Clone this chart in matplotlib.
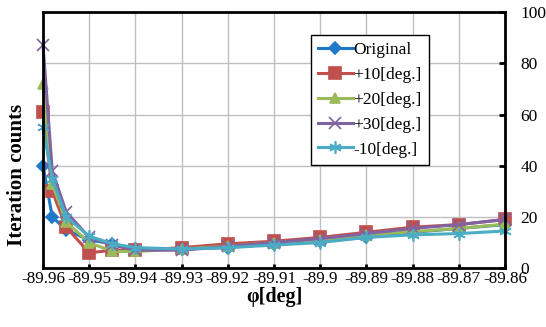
import numpy as np
import matplotlib.pyplot as plt

plt.rcParams['font.family'] = ['Liberation Serif', 'DejaVu Serif']

# data
phi = [-89.96, -89.958, -89.955, -89.95, -89.945, -89.94, -89.93,
       -89.92, -89.91, -89.90, -89.89, -89.88, -89.87, -89.86]
original = [40, 20, 15, 11, 9.5, 7.5, 7.5, 8, 9.5, 10.5, 12, 14, 15.5, 17]
plus10 = [61, 30, 16, 6, 7, 7, 8, 9.5, 10.5, 12, 14, 16, 17, 19]
plus20 = [72, 33, 18, 10, 6.5, 6.5, 7.5, 8.5, 10, 11, 13, 14.2, 15.5, 17.2]
plus30 = [87, 38, 22, 12, 9, 7, 7, 8.5, 10, 11.5, 13.5, 15.5, 17, 19]
minus10 = [55, 35, 20, 12.5, 9.5, 8, 7.5, 8, 9, 10, 12, 13, 13.5, 14.5]

labels = ['Original', '+10[deg.]', '+20[deg.]', '+30[deg.]', '-10[deg.]']
colors = ['#1f78c8', '#c0504d', '#9bbb59', '#8064a2', '#4bacc6']
markers = ['D', 's', '^', 'x', (6, 2, 0)]
msizes = [6, 8, 7, 9, 9]
series = [original, plus10, plus20, plus30, minus10]

xticks = [-89.96, -89.95, -89.94, -89.93, -89.92, -89.91, -89.90,
          -89.89, -89.88, -89.87, -89.86]
xticklabels = ['-89.96', '-89.95', '-89.94', '-89.93', '-89.92', '-89.91',
               '-89.9', '-89.89', '-89.88', '-89.87', '-89.86']
yticks = [0, 20, 40, 60, 80, 100]

fig = plt.figure(figsize=(5.46, 3.27), dpi=100)
ax = fig.add_axes([0.0788, 0.180, 0.8462, 0.783])

for y, lab, c, m, ms in zip(series, labels, colors, markers, msizes):
    ax.plot(phi, y, color=c, marker=m, markersize=ms, lw=2.2,
            markeredgewidth=1.2, label=lab, clip_on=False)

ax.set_xlim(-89.96, -89.86)
ax.set_ylim(0, 100)
ax.set_xticks(xticks)
ax.set_xticklabels(xticklabels)
ax.set_yticks(yticks)
ax.yaxis.tick_right()
ax.grid(True, color='#bfbfbf', lw=1)
ax.set_axisbelow(True)
ax.tick_params(axis='x', direction='in', length=3, width=2, pad=2,
               labelsize=12.3)
ax.tick_params(axis='y', direction='in', length=4, width=2, pad=11,
               labelsize=12.5, right=True, left=False)
for s in ax.spines.values():
    s.set_linewidth(2)
    s.set_color('black')

fig.text(0.031, 1 - 175 / 327, 'Iteration counts', rotation=90,
         fontsize=15, fontweight='bold', ha='center', va='center')
fig.text(274 / 546, 1 - 297 / 327, 'φ[deg]', fontsize=14.5,
         fontweight='bold', ha='center', va='center')

leg = ax.legend(loc='upper left', bbox_to_anchor=(0.580, 0.910),
                fontsize=12.5, frameon=True, fancybox=False, framealpha=1,
                edgecolor='black', handlelength=2.0, handletextpad=0.05,
                labelspacing=0.5, borderpad=0.4, borderaxespad=0)
leg.get_frame().set_linewidth(1)

fig.savefig('out.png', dpi=100)
